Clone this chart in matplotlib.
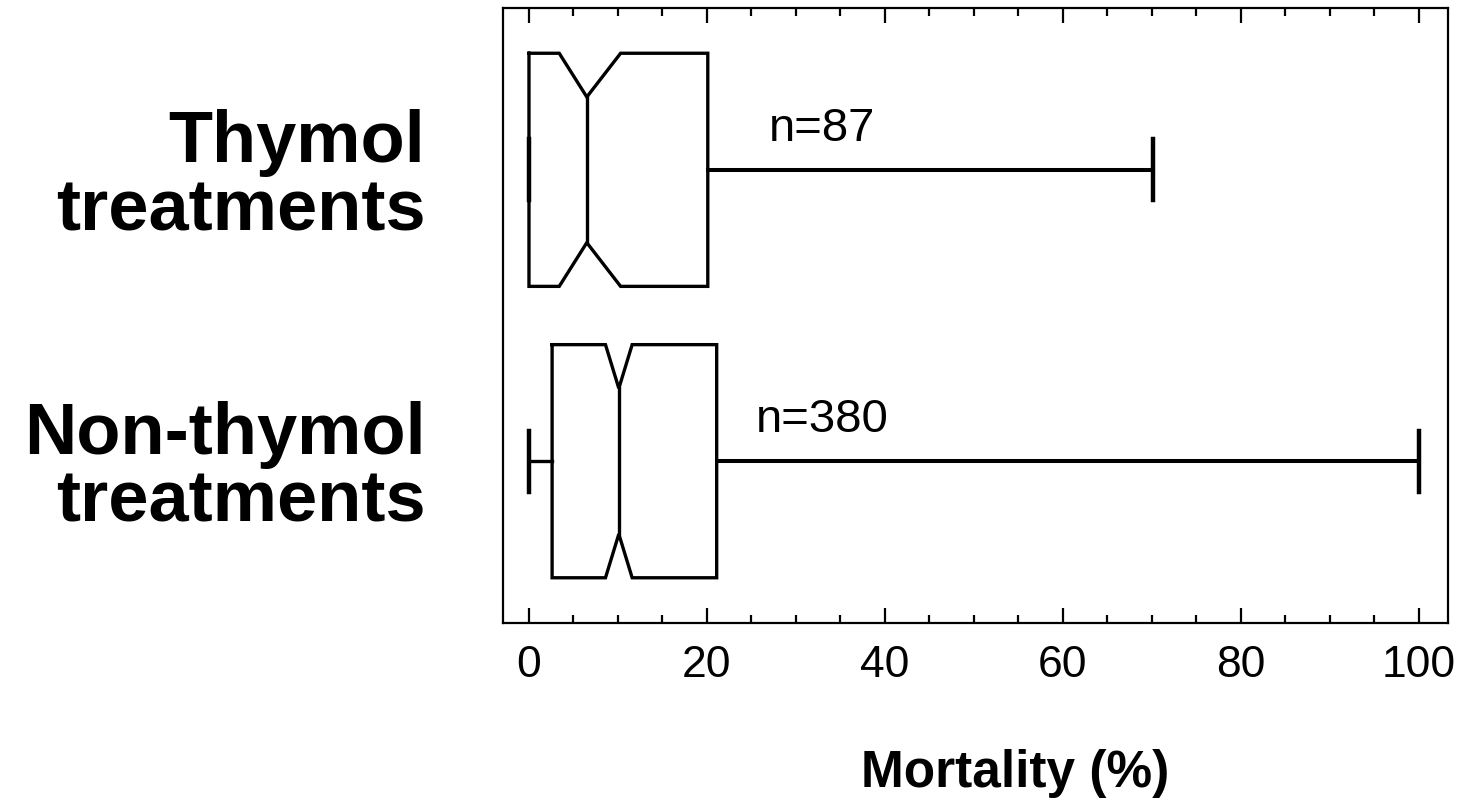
import matplotlib
matplotlib.use('Agg')
import matplotlib.pyplot as plt
from matplotlib.ticker import MultipleLocator

plt.rcParams['font.family'] = ['Liberation Sans', 'DejaVu Sans']

# data
groups = ['Thymol\ntreatments', 'Non-thymol\ntreatments']
counts = ['n=87', 'n=380']
q1 = [0.0, 2.6]
q3 = [20.1, 21.1]
med = [6.5, 10.1]
notch_lo = [3.4, 8.6]
notch_hi = [10.3, 11.6]
whis_lo = [0.0, 0.0]
whis_hi = [70.1, 100.0]

fig = plt.figure(figsize=(14.67, 8.09), dpi=100)
ax = fig.add_axes([0.343, 0.230, 0.644, 0.760])

lw = 2.4
hw = 0.40   # half box height
nw = 0.25   # half height at the notch waist
cw = 0.105  # half cap height
pos = [1, 2]

for i, p in enumerate(pos):
    xs = [q1[i], notch_lo[i], med[i], notch_hi[i], q3[i], q3[i],
          notch_hi[i], med[i], notch_lo[i], q1[i], q1[i]]
    ys = [p - hw, p - hw, p - nw, p - hw, p - hw, p + hw,
          p + hw, p + nw, p + hw, p + hw, p - hw]
    ax.plot(xs, ys, color='black', lw=lw, solid_joinstyle='miter')
    ax.plot([med[i], med[i]], [p - nw, p + nw], color='black', lw=lw)
    ax.plot([whis_lo[i], q1[i]], [p, p], color='black', lw=lw)
    ax.plot([q3[i], whis_hi[i]], [p, p], color='black', lw=lw + 0.5)
    ax.plot([whis_lo[i], whis_lo[i]], [p - cw, p + cw], color='black', lw=lw + 0.8)
    ax.plot([whis_hi[i], whis_hi[i]], [p - cw, p + cw], color='black', lw=lw + 0.8)
    ax.text(33, p - 0.14, counts[i], fontsize=34, ha='center', va='center')

ax.set_xlim(-2.9, 103.3)
ax.set_ylim(2.555, 0.445)
ax.set_yticks(pos)
ax.set_yticklabels(groups, fontsize=52, fontweight='bold', linespacing=1.0)
ax.tick_params(axis='y', length=0, pad=56)
for lab in ax.get_yticklabels():
    lab.set_horizontalalignment('right')

ax.xaxis.set_major_locator(MultipleLocator(20))
ax.xaxis.set_minor_locator(MultipleLocator(5))
ax.tick_params(axis='x', which='both', direction='in', top=True, bottom=True,
               width=1.6, labelsize=32, pad=16)
ax.tick_params(axis='x', which='major', length=11)
ax.tick_params(axis='x', which='minor', length=6)
for s in ax.spines.values():
    s.set_linewidth(1.6)

ax.set_xlabel('Mortality (%)', fontsize=37, fontweight='bold')
ax.xaxis.set_label_coords(0.542, -0.205)

fig.savefig('out.png', dpi=100)
